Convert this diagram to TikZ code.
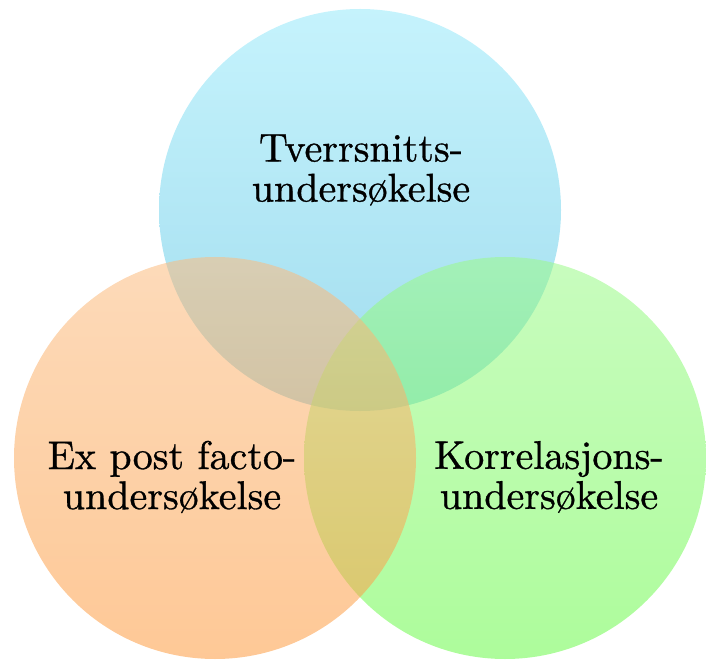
\documentclass[tikz,border=0pt]{standalone}
\usepackage{fontspec}
\setmainfont{lmroman10-regular.otf}[FakeBold=0.8]
\begin{document}
\begin{tikzpicture}[x=1pt,y=1pt,
  lbl/.style={align=center,font=\fontsize{40}{40}\selectfont,inner sep=0pt,text=black},
  venn/.style={opacity=0.55}]
\useasboundingbox (0,0) rectangle (706,659);
\definecolor{tTop}{RGB}{150,233,250}
\definecolor{tBot}{RGB}{82,191,224}
\definecolor{lTop}{RGB}{251,188,128}
\definecolor{lBot}{RGB}{253,155,64}
\definecolor{rTop}{RGB}{155,250,137}
\definecolor{rBot}{RGB}{106,250,73}
\coordinate (ct) at (360,449);
\coordinate (cl) at (215,201);
\coordinate (cr) at (505,201);
\shade[venn,top color=tTop,bottom color=tBot] (ct) circle[radius=201];
\shade[venn,top color=rTop,bottom color=rBot] (cr) circle[radius=201];
\shade[venn,top color=lTop,bottom color=lBot] (cl) circle[radius=201];
\node[lbl] (t) at (361,489) {Tverrsnitts-\\undersøkelse};
\node[lbl] (l) at (172,182) {Ex post facto-\\undersøkelse};
\node[lbl] (r) at (549,182) {Korrelasjons-\\undersøkelse};
\end{tikzpicture}
\end{document}
